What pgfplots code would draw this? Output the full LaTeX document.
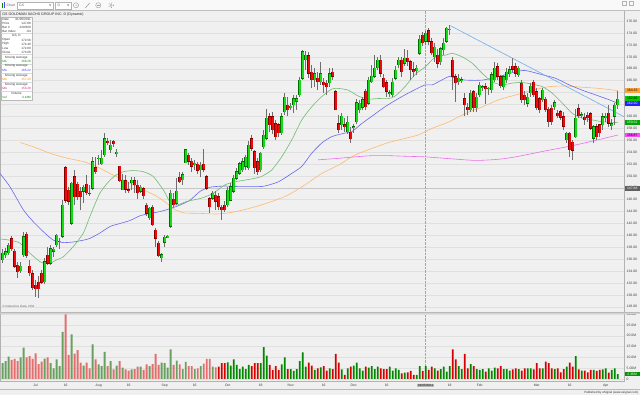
\documentclass[border=0pt]{standalone}
\usepackage{pgfplots}
\pgfplotsset{compat=1.18}
\usepackage{pgfplotstable}
\usepackage{fontspec}
\setmainfont{Liberation Sans}

\definecolor{bg}{RGB}{240,240,240}
\definecolor{gridc}{RGB}{224,224,224}
\definecolor{upc}{RGB}{20,220,20}
\definecolor{upd}{RGB}{0,110,0}
\definecolor{dnc}{RGB}{238,10,10}
\definecolor{dnd}{RGB}{130,0,0}
\definecolor{wick}{RGB}{110,110,110}
\definecolor{vup}{RGB}{0,135,0}
\definecolor{vdn}{RGB}{215,0,0}
\definecolor{vupm}{RGB}{105,160,95}
\definecolor{vdnm}{RGB}{228,110,110}
\definecolor{maG}{RGB}{110,190,110}
\definecolor{maB}{RGB}{105,105,235}
\definecolor{maO}{RGB}{255,185,110}
\definecolor{maM}{RGB}{238,110,238}
\definecolor{trl}{RGB}{110,175,238}
\definecolor{txt}{RGB}{60,60,60}
\newcommand{\tfs}{\fontsize{3.4}{4}\selectfont}
\newcommand{\ifs}{\fontsize{3.1}{3.6}\selectfont}

\pgfplotstableread{
n o h l c v
0 135.9 137.7 135.3 137.0 7.3
1 136.7 137.8 136.2 137.3 8.3
2 137.0 138.7 136.7 138.4 10.3
3 139.5 139.9 137.4 137.7 8.8
4 137.4 137.7 134.5 134.8 9.3
5 135.0 135.6 132.8 133.9 8.3
6 134.0 135.6 133.6 134.9 10.0
7 136.7 140.6 136.4 139.8 14.5
8 140.2 140.6 136.2 136.6 10.0
9 134.9 135.8 133.1 133.7 10.6
10 133.6 134.2 130.8 131.2 9.3
11 131.7 132.5 129.7 131.0 11.9
12 132.2 133.1 129.4 131.0 6.9
13 133.7 134.2 131.9 132.1 8.0
14 132.2 136.2 131.9 135.6 9.4
15 136.7 138.1 135.0 135.3 10.0
16 135.3 138.4 135.0 137.8 7.3
17 137.3 138.1 136.4 137.7 4.9
18 138.4 140.3 138.1 140.1 9.1
19 139.0 139.5 137.8 139.0 6.0
20 139.8 145.9 139.5 145.1 21.8
21 151.4 151.7 145.4 145.9 29.9
22 147.6 148.2 145.1 145.7 11.1
23 142.0 149.0 141.8 148.8 20.7
24 149.9 151.0 145.1 146.5 11.7
25 148.6 149.0 146.0 146.5 13.4
26 147.4 148.2 144.3 146.5 7.6
27 147.4 148.5 145.4 148.1 6.2
28 148.6 150.2 146.8 147.1 7.6
29 147.1 148.5 146.6 147.0 4.9
30 147.9 153.2 147.6 152.4 16.0
31 151.4 153.2 150.4 150.7 9.1
32 152.9 153.5 151.8 153.0 6.8
33 152.0 154.4 151.8 153.0 6.0
34 153.5 157.2 153.2 156.3 12.5
35 155.8 156.3 155.2 155.7 6.0
36 154.4 156.0 153.8 155.2 8.3
37 155.9 156.0 154.9 155.4 4.5
38 153.9 154.6 153.2 153.9 6.2
39 151.6 151.7 149.0 149.2 8.3
40 147.6 150.4 147.6 149.3 5.2
41 149.2 150.2 147.1 147.7 4.5
42 147.7 149.0 147.1 147.6 3.9
43 148.8 149.8 147.6 149.3 4.5
44 149.2 149.8 147.1 148.5 4.6
45 148.5 149.3 146.2 147.1 5.7
46 147.4 148.5 147.1 148.1 5.7
47 147.9 148.2 146.2 146.6 4.2
48 145.1 145.4 143.2 143.7 6.8
49 142.9 144.8 142.6 144.6 6.0
50 144.8 145.1 141.5 141.8 6.9
51 140.9 141.2 138.1 139.5 11.6
52 138.7 139.0 136.4 136.6 6.5
53 136.2 137.0 135.6 136.8 7.6
54 138.8 140.1 138.1 139.7 7.3
55 139.8 140.1 139.5 139.8 5.2
56 141.5 147.6 141.2 147.1 13.7
57 146.1 147.1 144.8 145.1 6.5
58 145.4 149.6 145.1 147.4 8.5
59 149.8 150.7 148.8 149.0 6.8
60 149.3 150.7 148.5 150.2 4.6
61 152.2 154.6 152.1 154.4 7.9
62 153.5 153.8 151.8 152.4 6.0
63 152.5 153.0 150.6 151.6 6.0
64 151.8 152.6 151.0 152.2 4.6
65 152.0 152.4 150.4 150.9 4.9
66 151.0 152.4 149.8 151.8 6.0
67 152.0 154.5 150.7 151.1 7.1
68 149.9 150.2 147.6 147.9 9.3
69 146.2 146.5 143.7 144.8 9.3
70 146.2 147.4 146.0 147.1 5.7
71 146.8 147.4 144.3 145.7 5.4
72 146.5 147.1 144.3 144.8 5.7
73 144.8 145.1 142.6 144.3 7.3
74 145.1 145.7 144.0 144.3 7.3
75 145.1 148.2 144.8 147.6 7.7
76 145.9 148.8 145.7 148.2 6.2
77 147.4 150.2 147.1 149.6 9.1
78 149.6 151.3 149.3 150.7 6.5
79 150.4 152.4 150.2 152.1 4.6
80 151.0 153.0 150.7 152.4 5.7
81 151.6 153.5 151.0 153.2 4.6
82 151.3 155.8 151.0 155.2 6.5
83 156.3 156.9 154.1 154.6 6.0
84 154.1 154.4 150.4 151.3 7.3
85 152.4 153.0 150.2 150.7 7.3
86 151.0 154.1 150.7 153.8 7.3
87 154.9 157.7 154.6 156.9 14.7
88 156.3 161.3 156.0 159.7 10.8
89 160.0 160.5 157.4 158.6 6.5
90 160.0 160.8 157.1 157.7 4.2
91 158.8 159.4 156.0 156.6 6.0
92 158.6 158.9 156.6 157.2 4.2
93 157.2 160.5 156.9 160.0 6.8
94 160.8 163.9 160.2 163.2 10.0
95 161.9 163.3 160.0 161.1 4.6
96 161.6 162.2 161.0 161.7 4.6
97 161.9 163.6 160.5 163.0 3.7
98 162.5 163.6 161.1 163.0 4.6
99 163.6 166.7 163.3 166.1 8.3
100 166.4 171.2 166.1 170.9 12.3
101 169.5 171.0 167.8 170.3 5.7
102 170.2 170.9 166.4 167.2 7.6
103 167.5 168.6 164.7 166.1 6.2
104 166.1 168.1 165.0 167.2 4.2
105 166.4 167.5 164.4 165.8 4.9
106 165.8 169.2 165.3 167.2 5.4
107 165.8 166.4 164.0 165.3 6.0
108 165.6 166.1 163.6 165.0 3.9
109 165.6 168.1 165.0 167.2 4.9
110 167.4 168.1 166.1 166.7 4.6
111 164.2 164.4 161.0 161.1 11.6
112 158.8 160.2 157.2 157.7 7.6
113 158.6 160.5 157.7 160.1 4.5
114 158.6 159.7 157.4 158.2 1.9
115 157.4 160.0 157.1 159.1 4.9
116 157.4 158.3 155.5 156.2 5.7
117 158.2 158.8 157.2 158.3 6.2
118 159.1 163.0 158.8 162.3 7.6
119 161.1 162.7 160.5 162.2 4.9
120 161.5 163.3 161.1 162.8 3.9
121 164.3 164.6 161.1 161.6 5.7
122 162.2 166.7 161.9 166.1 5.2
123 165.8 168.6 165.6 166.8 6.0
124 166.7 170.3 166.4 168.1 4.6
125 168.1 170.0 167.8 169.5 5.7
126 169.5 170.3 166.7 167.2 4.9
127 166.4 167.2 164.7 165.0 4.6
128 165.7 166.1 163.3 164.2 4.6
129 163.9 164.4 163.3 164.0 5.7
130 163.6 166.4 163.3 165.8 3.9
131 166.4 168.4 166.1 167.8 4.9
132 168.6 170.0 168.1 169.5 4.2
133 169.5 170.0 166.7 167.5 2.6
134 168.9 171.4 168.4 169.8 2.9
135 169.8 171.2 168.4 169.2 3.1
136 169.2 169.5 166.1 167.8 3.7
137 167.9 169.2 166.7 167.5 1.9
138 167.6 168.6 167.0 168.1 1.9
139 170.6 173.7 170.3 173.0 6.0
140 173.7 174.2 171.9 172.3 3.7
141 172.58 174.40 172.00 174.00 6.0
142 174.4 174.9 172.0 172.6 4.2
143 172.6 173.1 170.3 170.7 5.7
144 170.0 172.3 169.2 171.7 4.9
145 170.3 171.4 168.1 168.9 3.9
146 169.2 171.7 168.6 171.4 4.6
147 171.2 173.1 170.3 172.3 5.7
148 172.6 175.1 172.3 174.8 3.4
149 174.6 175.3 173.6 174.7 6.0
150 169.5 170.0 164.4 166.7 13.7
151 166.7 167.2 162.5 165.6 9.1
152 165.8 167.2 165.3 166.4 6.0
153 166.1 166.7 165.6 166.2 4.6
154 163.0 163.9 160.0 161.9 11.6
155 161.6 162.2 160.2 161.1 4.9
156 161.1 164.4 160.8 163.9 6.9
157 164.2 164.4 160.8 161.4 6.0
158 161.4 163.9 160.8 163.3 4.6
159 163.6 165.8 163.3 165.3 4.2
160 164.9 165.3 164.2 165.0 4.6
161 165.0 165.6 162.0 164.7 3.4
162 164.7 165.0 163.6 164.8 4.9
163 164.4 167.5 164.0 167.0 3.9
164 166.1 169.2 165.8 168.1 5.2
165 168.4 169.0 166.1 166.7 4.9
166 166.7 167.0 164.7 165.1 6.0
167 165.0 167.0 164.4 166.7 4.6
168 166.1 168.1 165.6 167.5 4.6
169 167.1 168.4 166.7 167.9 3.9
170 168.5 169.8 167.5 167.9 4.5
171 168.4 168.9 166.7 167.2 4.9
172 167.0 168.4 166.7 168.1 4.6
173 165.6 166.1 162.2 162.8 3.9
174 163.6 164.2 161.9 162.8 4.9
175 162.2 163.9 161.6 163.3 4.9
176 163.9 165.6 163.3 165.1 4.9
177 165.8 166.1 163.3 163.6 4.5
178 164.2 164.7 161.1 161.4 7.3
179 163.0 163.3 160.5 161.1 4.9
180 162.8 164.7 162.5 164.4 4.9
181 162.9 163.3 160.8 161.1 8.0
182 161.2 161.6 158.3 159.1 7.3
183 161.4 161.9 158.6 159.1 4.9
184 161.6 162.8 161.1 162.3 4.6
185 160.6 161.1 159.7 160.1 4.9
186 160.8 161.1 159.4 159.8 3.1
187 160.0 160.8 157.7 158.3 4.6
188 156.0 157.4 155.5 157.2 5.7
189 157.2 157.4 153.2 154.4 7.6
190 155.7 156.0 152.7 154.3 5.7
191 156.6 161.3 156.3 159.7 10.6
192 161.3 162.0 159.7 160.1 4.5
193 160.2 160.8 159.7 160.3 3.9
194 159.9 160.5 158.6 159.4 3.9
195 160.2 160.8 159.1 159.7 3.1
196 160.5 160.8 157.7 158.0 4.2
197 156.3 158.6 155.5 158.3 4.2
198 158.3 158.8 156.0 156.6 3.7
199 158.6 158.8 156.6 157.2 4.2
200 158.6 160.5 157.7 160.0 4.5
201 159.7 160.5 159.1 160.1 4.9
202 160.6 161.9 158.3 158.8 2.9
203 158.4 159.5 157.7 158.8 4.2
204 160.0 162.2 158.6 161.9 4.9
205 161.9 164.3 161.3 162.96 2.3
}\gsdata

\begin{document}
\begin{tikzpicture}
\useasboundingbox (0,0) rectangle (640pt,395pt);
\fill[bg] (0,0) rectangle (640pt,395pt);

% ---------------- price panel ----------------
\begin{axis}[
  at={(0pt,83pt)}, anchor=south west, scale only axis,
  width=624pt, height=302pt,
  xmin=-0.89, xmax=207.1, ymin=127.13, ymax=177.88,
  axis background/.style={fill=bg},
  axis line style={draw=gray!60},
  xtick=\empty,
  ytick={128,130,...,176},
  yticklabel pos=right,
  ymajorgrids, grid style={draw=gridc, line width=0.5pt},
  major tick length=0pt,
  yticklabel style={font=\tfs, text=txt, anchor=west, inner sep=0.5pt, xshift=2pt,
    /pgf/number format/fixed, /pgf/number format/fixed zerofill,
    /pgf/number format/precision=2, /pgf/number format/assume math mode=true},
]
% crosshair
\draw[gray!45, line width=0.5pt] (axis cs:-0.89,147.9) -- (axis cs:207.1,147.9);
\draw[gray!70, densely dotted, line width=0.4pt] (axis cs:141,127.13) -- (axis cs:141,177.88);

% moving averages
\addplot[maO, line width=0.6pt, smooth, tension=0.4] coordinates {
(5.8,155.6)(10.2,154.9)(15.8,153.8)(21.3,153.0)(26.9,152.4)(30.2,151.8)(32.4,151.3)(35.8,150.4)(39.1,149.6)(43.6,148.5)(48,147.4)(51.3,146.6)(54.7,145.4)(56.9,144.5)(60.2,143.8)(65.8,143.7)(70.8,143.6)(74.1,143.7)(78.6,144.1)(84.1,144.8)(89.7,145.7)(95.2,146.8)(100.8,148.5)(106.3,150.4)(111.9,151.8)(117.4,153.5)(123,154.6)(128.6,155.6)(134.1,156.3)(138.6,156.9)(143.2,158.0)(148.8,159.1)(154.3,160.5)(159.9,161.6)(165.4,162.8)(171,163.6)(176.6,164.4)(182.1,165.0)(187.7,165.1)(193.2,164.9)(198.8,164.7)(205.1,164.33)};
\addplot[maM, line width=0.6pt, smooth, tension=0.4] coordinates {
(105.1,152.7)(111.9,152.95)(117.4,153.2)(123,153.4)(128.6,153.4)(134.1,153.3)(140.8,153.2)(148.8,152.9)(157.7,152.6)(165.4,152.8)(171,153.2)(179.9,154.1)(191,155.2)(205.1,156.87)};
\addplot[maB, line width=0.6pt, smooth, tension=0.4] coordinates {
(-0.9,150.4)(2.4,148.2)(6.9,144.3)(10.2,142.3)(13.6,140.6)(16.9,139.2)(20.2,138.8)(23.6,138.9)(26.9,139.2)(29.1,139.5)(32.4,140.4)(35.8,141.5)(39.1,142.0)(42.4,142.5)(45.8,143.3)(49.1,143.7)(52.4,144.0)(55.8,144.5)(59.1,145.1)(62.4,145.9)(65.8,147.4)(69.1,148.1)(74.1,148.3)(78.6,148.2)(81.9,148.2)(85.2,148.2)(87.4,148.3)(91.9,149.0)(96.3,150.4)(99.7,151.6)(103,153.8)(106.3,155.5)(109.7,156.6)(114.1,157.2)(116.3,157.4)(119.7,158.8)(123,160.0)(127.4,161.6)(131.9,163.0)(136.3,164.2)(140.8,165.3)(143.2,165.3)(148.8,166.7)(151,166.4)(154.3,166.1)(159.9,166.1)(165.4,166.7)(171,167.5)(174.3,167.7)(179.9,167.0)(184.3,166.4)(188.8,165.3)(193.2,164.4)(197.7,163.6)(202.1,162.8)(205.1,162.2)};
\addplot[maG, line width=0.6pt, smooth, tension=0.4] coordinates {
(-0.9,139.4)(2.4,139.2)(5.8,138.7)(9.1,137.0)(12.4,135.6)(14.1,135.3)(15.8,135.3)(18,135.9)(20.2,136.4)(23.5,138.1)(26.9,140.4)(29.1,143.2)(32.4,147.1)(35.8,149.3)(38,150.2)(40.2,150.7)(43.6,150.9)(46.9,150.7)(50.2,149.9)(53.6,147.6)(55.8,145.6)(58,145.1)(61.3,145.7)(65.8,146.2)(69.1,146.8)(70.8,147.3)(74.1,148.5)(77.4,149.0)(80.8,149.3)(84.1,149.6)(86.3,149.9)(89.7,151.0)(93,153.2)(96.3,156.0)(99.7,159.4)(103,161.6)(106.3,163.3)(109.7,164.6)(111.9,164.7)(115.2,164.4)(118.6,163.4)(121.9,162.9)(125.2,163.0)(128.6,163.0)(130.8,163.4)(134.1,165.0)(137.4,167.0)(141,168.4)(144.3,170.0)(147.7,170.3)(149.9,170.6)(153.2,170.0)(156.6,168.9)(159.9,167.2)(163.2,165.8)(166.6,165.3)(169.9,165.6)(173.2,165.7)(176.6,165.4)(179.9,165.0)(183.2,163.9)(186.6,162.2)(189.9,160.5)(193.2,159.7)(196.6,159.4)(199.9,159.1)(205.1,158.95)};
% trend line
\addplot[trl, line width=0.6pt] coordinates {(149.2,175.25)(207.1,159.95)};

% wicks
\addplot[draw=none, mark=none, error bars/.cd, y dir=both, y explicit, error mark=none,
  error bar style={draw=wick, solid, line width=0.5pt}]
  table[x=n, y expr={(\thisrow{h}+\thisrow{l})/2}, y error expr={(\thisrow{h}-\thisrow{l})/2}] {\gsdata};
% up bodies
\addplot[draw=none, mark=none, x filter/.expression={\thisrow{c}>=\thisrow{o} ? x : nan},
  error bars/.cd, y dir=both, y explicit, error mark=none,
  error bar style={draw=upd, solid, line width=2.5pt}]
  table[x=n, y expr={(\thisrow{o}+\thisrow{c})/2}, y error expr={max(abs(\thisrow{c}-\thisrow{o})/2,0.06)+0.04}] {\gsdata};
\addplot[draw=none, mark=none, x filter/.expression={\thisrow{c}>=\thisrow{o} ? x : nan},
  error bars/.cd, y dir=both, y explicit, error mark=none,
  error bar style={draw=upc, solid, line width=1.9pt}]
  table[x=n, y expr={(\thisrow{o}+\thisrow{c})/2}, y error expr={max(abs(\thisrow{c}-\thisrow{o})/2-0.02,0.04)}] {\gsdata};
% down bodies
\addplot[draw=none, mark=none, x filter/.expression={\thisrow{c}<\thisrow{o} ? x : nan},
  error bars/.cd, y dir=both, y explicit, error mark=none,
  error bar style={draw=dnd, solid, line width=2.5pt}]
  table[x=n, y expr={(\thisrow{o}+\thisrow{c})/2}, y error expr={max(abs(\thisrow{c}-\thisrow{o})/2,0.06)+0.04}] {\gsdata};
\addplot[draw=none, mark=none, x filter/.expression={\thisrow{c}<\thisrow{o} ? x : nan},
  error bars/.cd, y dir=both, y explicit, error mark=none,
  error bar style={draw=dnc, solid, line width=1.9pt}]
  table[x=n, y expr={(\thisrow{o}+\thisrow{c})/2}, y error expr={max(abs(\thisrow{c}-\thisrow{o})/2-0.02,0.04)}] {\gsdata};

\coordinate (Lor) at (axis cs:207.1,164.33);
\coordinate (Lpr) at (axis cs:207.1,162.96);
\coordinate (Lbl) at (axis cs:207.1,162.13);
\coordinate (Lgr) at (axis cs:207.1,159.0);
\coordinate (Lmg) at (axis cs:207.1,156.87);
\coordinate (Lcr) at (axis cs:207.1,147.9);
\end{axis}

% ---------------- volume panel ----------------
\begin{axis}[
  at={(0pt,14pt)}, anchor=south west, scale only axis,
  width=624pt, height=69pt,
  xmin=-0.89, xmax=207.1, ymin=-0.93, ymax=31.0,
  axis background/.style={fill=bg},
  axis line style={draw=gray!60},
  ytick={0,5,10,15,20,25,30},
  yticklabels={0,5.00M,10.0M,15.0M,20.0M,25.0M,30.0M},
  yticklabel pos=right,
  ymajorgrids, grid style={draw=gridc, line width=0.5pt},
  major tick length=0pt,
  yticklabel style={font=\tfs, text=txt, anchor=west, inner sep=0.5pt, xshift=2pt},
  xtick={11,21,32,42,54,64,75,86,96,107,117,128,149,159,178,189,201},
  xticklabels={Jul,16,Aug,16,Sep,16,Oct,18,Nov,16,Dec,16,18,Feb,Mar,16,Apr},
  xticklabel style={font=\tfs, text=txt, anchor=center, yshift=-4.3pt},
]
\draw[gray!70, densely dotted, line width=0.4pt] (axis cs:141,-0.93) -- (axis cs:141,31);
\addplot[ybar, bar width=0.62, bar shift=0pt, draw=none, fill=vupm,
  x filter/.expression={(\thisrow{c}>=\thisrow{o} && \thisrow{n}<72) ? x : nan}]
  table[x=n, y=v] {\gsdata};
\addplot[ybar, bar width=0.62, bar shift=0pt, draw=none, fill=vdnm,
  x filter/.expression={(\thisrow{c}<\thisrow{o} && \thisrow{n}<72) ? x : nan}]
  table[x=n, y=v] {\gsdata};
\addplot[ybar, bar width=0.62, bar shift=0pt, draw=none, fill=vup,
  x filter/.expression={(\thisrow{c}>=\thisrow{o} && \thisrow{n}>71) ? x : nan}]
  table[x=n, y=v] {\gsdata};
\addplot[ybar, bar width=0.62, bar shift=0pt, draw=none, fill=vdn,
  x filter/.expression={(\thisrow{c}<\thisrow{o} && \thisrow{n}>71) ? x : nan}]
  table[x=n, y=v] {\gsdata};
\coordinate (Lvol) at (axis cs:207.1,2.3);
\coordinate (Ldate) at (axis cs:141,-0.93);
\end{axis}

% panel separators
\draw[gray!55, line width=0.6pt] (0,83pt) -- (640pt,83pt);
\draw[gray!35, line width=0.5pt] (0,82pt) -- (640pt,82pt);

% right-side value labels
\tikzset{vl/.style={anchor=west, font=\tfs, inner sep=0.3pt, minimum width=15pt, minimum height=4.6pt, align=center}}
\node[vl, fill={rgb,255:red,255;green,165;blue,55}, text=black] at ([xshift=0.5pt]Lor) {164.33};
\node[vl, fill={rgb,255:red,0;green,205;blue,0}, text=black] at ([xshift=0.5pt]Lpr) {162.96};
\node[vl, fill={rgb,255:red,35;green,35;blue,250}, text=white] at ([xshift=0.5pt]Lbl) {162.20};
\node[vl, fill={rgb,255:red,0;green,165;blue,0}, text=white] at ([xshift=0.5pt]Lgr) {159.02};
\node[vl, fill={rgb,255:red,255;green,70;blue,255}, text=black] at ([xshift=0.5pt]Lmg) {156.87};
\node[vl, fill=gray!75!black, text=white] at ([xshift=0.5pt]Lcr) {147.88};
\node[vl, fill={rgb,255:red,0;green,150;blue,0}, text=white] at ([xshift=0.5pt]Lvol) {2.36M};
\node[font=\ifs, fill=gray!55, text=black, inner sep=0.6pt] at ([yshift=-4.3pt]Ldate) {01/05/2011};

% ---------------- decorations in image coordinates ----------------
\begin{scope}[shift={(0pt,395pt)}, x=1pt, y=-1pt]
% toolbar
\fill[white!95!gray] (0,0) rectangle (640,10);
\draw[gray!50, line width=0.4pt] (0,10) -- (640,10);
\fill[green!55!black] (2.3,3) rectangle (3.4,8.2);
\fill[blue!70] (3.9,2) rectangle (5.0,8.2);
\node[anchor=west, font=\tfs, text=gray!85!black, inner sep=0pt] at (6.5,5.4) {Chart};
\draw[gray!60, fill=white, line width=0.3pt] (17,1.8) rectangle (53.5,8.8);
\node[anchor=west, font=\tfs, text=gray!80!black, inner sep=0pt] at (19,5.4) {GS};
\fill[gray!80] (48.9,4.4) -- (51.3,4.4) -- (50.1,6.3) -- cycle;
\draw[gray!60, fill=white, line width=0.3pt] (55.5,1.8) rectangle (71,8.8);
\node[anchor=west, font=\tfs, text=gray!80!black, inner sep=0pt] at (57.5,5.4) {D};
\fill[gray!80] (66.9,4.4) -- (69.3,4.4) -- (68.1,6.3) -- cycle;
\draw[gray!75, line width=0.45pt] (76,5.3) circle (2.6);
\draw[gray!75, line width=0.45pt] (76,3.8) -- (76,5.6) -- (77.3,6.2);
\draw[gray!75, line width=0.6pt] (85.3,8) -- (89.8,2.9);
\draw[gray!75, line width=0.45pt] (98.3,5.3) circle (2.6);
\draw[gray!75, line width=0.45pt] (96.9,5.3) -- (99.7,5.3);
\draw[gray!75, line width=0.8pt, dotted] (111,5.3) circle (2.4);
\draw[gray!75, line width=0.4pt] (111,5.3) circle (1.0);
\draw[gray!60, line width=0.3pt] (622,1.6) rectangle (626.5,5.6);
\draw[gray!60, line width=0.3pt] (629,1.6) rectangle (633.5,5.6);
% title
\node[anchor=west, font=\fontsize{3.6}{4}\selectfont, text=black!85, inner sep=0pt] at (2.2,14.2) {GS GOLDMAN SACHS GROUP INC. D (Dynamic)};
% info box
\draw[gray!55, fill=white, line width=0.3pt] (1.2,16.8) rectangle (31.7,100.2);
\foreach \yy in {33.4,54.6,63.9,73.0,82.0,91.2} {\draw[gray!30, line width=0.3pt] (1.4,\yy) -- (31.5,\yy);}
\tikzset{il/.style={anchor=west, font=\ifs, inner sep=0pt, text=black!80}, ir/.style={anchor=east, font=\ifs, inner sep=0pt, text=black!80}, ic/.style={font=\ifs, inner sep=0pt, text=black!80}}
\node[il] at (2.2,19.3) {Date};      \node[ir] at (31,19.3) {01/05/2011};
\node[il] at (2.2,23.3) {Price};     \node[ir] at (31,23.3) {147.88};
\node[il] at (2.2,27.1) {Bar \#};    \node[ir] at (31,27.1) {229/300};
\node[il] at (2.2,31.0) {Bar Index}; \node[ir] at (31,31.0) {-64};
\node[ic] at (16.4,35.8) {GS, D};
\node[il] at (2.2,40.0) {Open};  \node[ir] at (31,40.0) {172.58};
\node[il] at (2.2,44.0) {High};  \node[ir] at (31,44.0) {174.40};
\node[il] at (2.2,48.0) {Low};   \node[ir] at (31,48.0) {172.00};
\node[il] at (2.2,52.0) {Close}; \node[ir] at (31,52.0) {174.00};
\node[ic] at (16.4,57.3) {Moving Average};
\node[il, text=green!60!black] at (2.2,61.4) {MA}; \node[ir, text=green!60!black] at (31,61.4) {168.28};
\node[ic] at (16.4,66.2) {Moving Average};
\node[il, text=blue!80] at (2.2,70.4) {MA}; \node[ir, text=blue!80] at (31,70.4) {165.22};
\node[ic] at (16.4,75.3) {Moving Average};
\node[il, text=orange] at (2.2,79.7) {MA}; \node[ir, text=orange] at (31,79.7) {157.20};
\node[ic] at (16.4,84.4) {Moving Average};
\node[il, text=magenta!90!black] at (2.2,88.7) {MA}; \node[ir, text=magenta!90!black] at (31,88.7) {153.28};
\node[ic] at (16.4,93.4) {Volume};
\node[il, text=green!50!black] at (2.2,97.7) {Vol}; \node[ir, text=green!50!black] at (31,97.7) {4.14M};
% data source note
\node[anchor=west, font=\fontsize{3}{3.4}\selectfont, text=gray!80!black, inner sep=0pt] at (2.2,306.8) {\textcopyright\ Interactive Data, 2011};
% bottom strip
\draw[gray!55, line width=0.5pt] (0,389.4) -- (640,389.4);
\node[anchor=east, font=\fontsize{3}{3.4}\selectfont, text=black!80, inner sep=0pt] at (638.5,392.3) {Published by eSignal (www.esignal.com)};
\end{scope}
\end{tikzpicture}
\end{document}
